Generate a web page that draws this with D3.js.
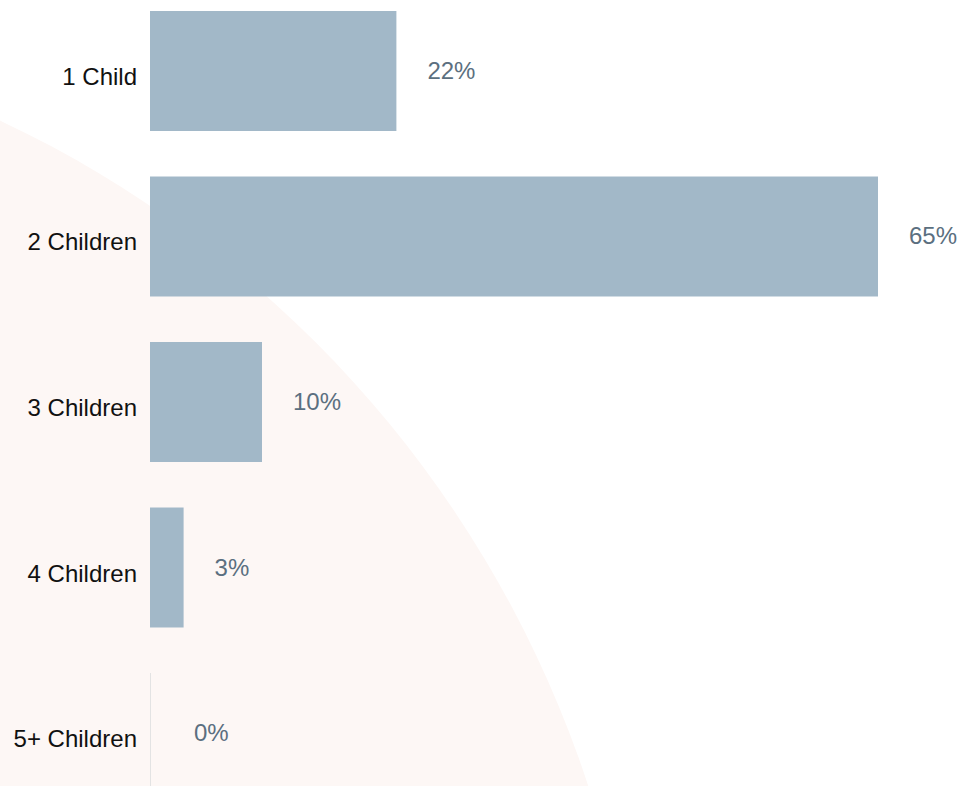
<!DOCTYPE html>
<html>
<head>
<meta charset="utf-8">
<script src="https://cdn.jsdelivr.net/npm/d3@7"></script>
<style>
  html, body { margin: 0; padding: 0; background: #ffffff; }
  svg { display: block; font-family: "Liberation Sans", Arial, Helvetica, sans-serif; }
</style>
</head>
<body>
<svg id="chart" width="968" height="786"></svg>
<script>
// Share of families by number of children
const categories = ["1 Child", "2 Children", "3 Children", "4 Children", "5+ Children"];
const shares = [22, 65, 10, 3, 0];

const width = 968, height = 786;
const svg = d3.select("#chart");

// soft decorative disc behind the bars
svg.append("circle")
  .attr("cx", -477)
  .attr("cy", 1135)
  .attr("r", 1121)
  .attr("fill", "#fdf7f5");

const x = d3.scaleLinear().domain([0, 65]).range([150, 878]);
const y = d3.scaleBand()
  .domain(categories)
  .range([11, 793])
  .paddingInner(0.275)
  .paddingOuter(0);

const rows = categories.map((c, i) => ({ cat: c, v: shares[i] }));

const g = svg.append("g");

g.selectAll("rect.bar")
  .data(rows)
  .join("rect")
  .attr("class", "bar")
  .attr("x", x(0))
  .attr("y", d => y(d.cat))
  .attr("height", y.bandwidth())
  .attr("width", d => Math.max(1, x(d.v) - x(0)))
  .attr("fill", d => d.v > 0 ? "#a2b8c8" : "#e3e3e3");

// category labels on the left
g.selectAll("text.cat")
  .data(rows)
  .join("text")
  .attr("class", "cat")
  .attr("x", x(0) - 13)
  .attr("y", d => y(d.cat) + y.bandwidth() / 2 + 14)
  .attr("text-anchor", "end")
  .attr("font-size", 24)
  .attr("fill", "#111111")
  .text(d => d.cat);

// value labels right of each bar
g.selectAll("text.val")
  .data(rows)
  .join("text")
  .attr("class", "val")
  .attr("x", d => x(d.v) + (d.v > 0 ? 31 : 44))
  .attr("y", d => y(d.cat) + y.bandwidth() / 2 + 8)
  .attr("text-anchor", "start")
  .attr("font-size", 24)
  .attr("fill", "#5b6f80")
  .text(d => d3.format("d")(d.v) + "%");
</script>
</body>
</html>
